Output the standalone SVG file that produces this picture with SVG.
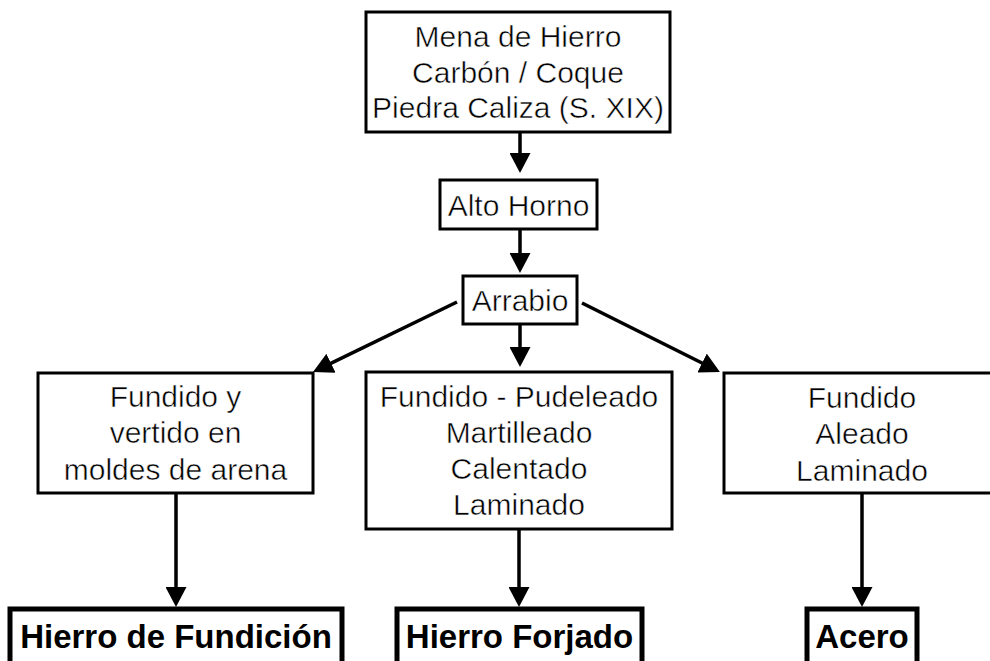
<svg xmlns="http://www.w3.org/2000/svg" width="990" height="661" viewBox="0 0 990 661">
  <style>
    .box { fill: #ffffff; stroke: #000000; stroke-width: 3; }
    .final { fill: #ffffff; stroke: #000000; stroke-width: 5; }
    .t { font-family: "Liberation Sans", Arial, sans-serif; font-weight: normal; font-size: 30px; fill: #000000; stroke: #ffffff; stroke-width: 0.5; text-anchor: middle; }
    .b { font-family: "Liberation Sans", Arial, sans-serif; font-weight: bold; font-size: 33px; fill: #000000; text-anchor: middle; }
    .c { stroke: #000000; stroke-width: 3.5; fill: none; marker-end: url(#ah); }
  </style>
  <defs>
    <marker id="ah" viewBox="0 0 20 21" refX="10" refY="10.5" markerWidth="20" markerHeight="21" markerUnits="userSpaceOnUse" orient="auto">
      <path d="M0,0 L20,10.5 L0,21 Z" fill="#000000"/>
    </marker>
  </defs>
  <rect width="990" height="661" fill="#ffffff"/>

  <g id="connectors">
    <line class="c" x1="520" y1="133" x2="520" y2="163"/>
    <line class="c" x1="520" y1="230" x2="520" y2="263"/>
    <line class="c" x1="520" y1="325" x2="520" y2="357"/>
    <line class="c" x1="457" y1="302" x2="322" y2="367.6"/>
    <line class="c" x1="582" y1="303" x2="711" y2="367.5"/>
    <line class="c" x1="176" y1="494" x2="176" y2="597"/>
    <line class="c" x1="519" y1="530" x2="519" y2="597"/>
    <line class="c" x1="862" y1="494" x2="862" y2="597"/>
  </g>

  <g id="materias">
    <rect class="box" x="366" y="12" width="304" height="120"/>
    <text class="t" x="518" y="47">Mena de Hierro</text>
    <text class="t" x="518" y="83">Carbón / Coque</text>
    <text class="t" x="518" y="118">Piedra Caliza (S. XIX)</text>
  </g>

  <g id="alto-horno">
    <rect class="box" x="440" y="180" width="157" height="49"/>
    <text class="t" x="518.5" y="216">Alto Horno</text>
  </g>

  <g id="arrabio">
    <rect class="box" x="463" y="276" width="114" height="48"/>
    <text class="t" x="520" y="311">Arrabio</text>
  </g>

  <g id="proceso-fundicion">
    <rect class="box" x="38" y="373" width="275" height="120"/>
    <text class="t" x="175.5" y="407">Fundido y</text>
    <text class="t" x="175.5" y="443">vertido en</text>
    <text class="t" x="175.5" y="480">moldes de arena</text>
  </g>

  <g id="proceso-forjado">
    <rect class="box" x="366" y="372" width="306" height="157"/>
    <text class="t" x="519" y="407">Fundido - Pudeleado</text>
    <text class="t" x="519" y="443">Martilleado</text>
    <text class="t" x="519" y="479">Calentado</text>
    <text class="t" x="519" y="515">Laminado</text>
  </g>

  <g id="proceso-acero">
    <rect class="box" x="724" y="373" width="276" height="120"/>
    <text class="t" x="862" y="408">Fundido</text>
    <text class="t" x="862" y="444">Aleado</text>
    <text class="t" x="862" y="481">Laminado</text>
  </g>

  <g id="hierro-fundicion">
    <rect class="final" x="10" y="609" width="332" height="80"/>
    <text class="b" x="176" y="648">Hierro de Fundición</text>
  </g>

  <g id="hierro-forjado">
    <rect class="final" x="397" y="609" width="245" height="80"/>
    <text class="b" x="519.5" y="648">Hierro Forjado</text>
  </g>

  <g id="acero">
    <rect class="final" x="807" y="609" width="110" height="80"/>
    <text class="b" x="862" y="648">Acero</text>
  </g>
</svg>
